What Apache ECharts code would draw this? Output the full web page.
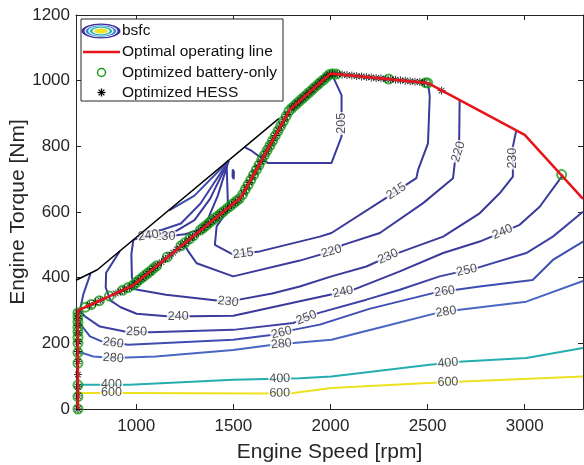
<!DOCTYPE html>
<html>
<head>
<meta charset="utf-8">
<script src="https://cdn.jsdelivr.net/npm/echarts@6/dist/echarts.min.js"></script>
<style>
html, body { margin: 0; padding: 0; background: #fff; }
#main { width: 584px; height: 465px; }
</style>
</head>
<body>
<div id="main"></div>
<script>
// tick values
var xTicks = [1000, 1500, 2000, 2500, 3000];

// optimal operating line [rpm, Nm]
var opLine = [[700,0],[700,300],[980,375],[1540,645],[1790,911],[2000,1022],[2500,993],[3000,835],[3300,640]];

// max torque curve
var maxTorque = [[690,392],[800,424],[1735,885]];

// bsfc contours, one array per piece
var c205 = [[2005,1022],[2057,956],[2057,830],[2005,749],[1679,749],[1590,788],[1560,797]];
var c210 = [[1497,730],[1503,722],[1502,700],[1496,708],[1497,730]];
var c215 = [[1465,752],[1473,606],[1414,556],[1405,500],[1499,470],[1636,480],[1945,525],[2005,536],[2271,637],[2442,703],[2451,728],[2502,809],[2511,952],[2502,994]];
var c220 = [[1245,505],[1268,480],[1311,444],[1499,404],[1842,452],[2005,480],[2065,500],[2254,536],[2477,627],[2631,703],[2640,750],[2662,790],[2665,941]];
var c230 = [[960,370],[1007,363],[1153,348],[1473,327],[1700,352],[1842,373],[2005,404],[2185,434],[2300,465],[2580,525],[2768,596],[2871,657],[2939,708],[2939,799],[2957,850]];
var c240 = [[916,481],[845,415],[843,370],[868,330],[920,310],[1002,290],[1174,282],[1500,284],[1842,328],[2116,363],[2357,419],[2580,475],[2768,510],[2974,561],[3077,616],[3197,713]];
var c250 = [[765,413],[728,350],[710,300],[736,282],[813,251],[942,236],[1071,234],[1499,241],[1808,262],[1936,292],[2185,333],[2357,363],[2562,404],[2751,429],[3008,475],[3145,525],[3300,601]];
var c260 = [[700,268],[762,221],[822,206],[959,196],[1499,211],[1705,226],[1808,241],[1945,257],[2200,305],[2528,353],[2768,373],[3041,393],[3145,454],[3300,510]];
var c280 = [[700,175],[779,160],[882,155],[1100,160],[1499,180],[1705,196],[2005,211],[2300,255],[2545,292],[2665,302],[3008,327],[3300,390]];
var c400 = [[700,74],[968,74],[1499,89],[1842,94],[2005,99],[2511,135],[2682,145],[3008,155],[3300,186]];
var c600 = [[700,49],[968,49],[1637,47],[1808,49],[2005,64],[2502,79],[2682,84],[3300,99]];
// pieces squeezed under the max torque curve
var w230 = [[1476,756],[1420,650],[1370,580],[1330,548],[1250,532],[1150,525],[1005,525]];
var w230b = [[985,515],[975,470],[978,400],[990,380]];
var w240 = [[1476,756],[1380,640],[1300,575],[1200,540],[1062,528],[985,515]];
var w250 = [[1476,756],[1330,625],[1230,565],[1130,545],[1040,540]];
var w260 = [[1476,756],[1300,650],[1170,605]];

// [rpm, Nm, level]
var contourLabels = [
  [2057,870,205],
  [1551,473,215],[2339,663,215],
  [2005,480,220],[2656,784,220],
  [1473,327,230],[2296,465,230],[2939,764,230],[1148,525,230],
  [1216,282,240],[2065,353,240],[2888,536,240],[1062,528,240],
  [1002,233,250],[1876,278,250],[2700,427,250],
  [882,203,260],[1748,232,260],[2588,358,260],
  [882,155,280],[1748,192,280],[2596,292,280],
  [873,74,400],[1739,94,400],[2605,140,400],
  [873,49,600],[1739,48,600],[2605,81,600]
];

var batteryOnly = [
  [700,0],[700,38],[700,73],[700,140],[700,172],[700,200],[700,218],[700,235],[700,250],[700,265],[700,280],[700,293],
  [738,310],[768,318],[810,330],[862,344],[930,362],[958,370],
  [985,378],[1000,385],[1015,393],[1030,400],[1045,407],[1060,414],[1075,421],[1090,429],[1105,436],
  [1160,463],[1230,497],[1250,506],[1275,518],[1295,528],
  [1330,545],[1345,552],[1360,559],[1375,567],[1390,574],[1405,581],[1420,588],[1435,595],[1450,602],[1468,611],[1485,619],[1500,626],[1515,633],[1530,640],
  [1548,654],[1562,669],[1576,683],[1590,698],[1604,713],[1618,728],[1632,743],[1646,758],[1660,773],[1674,788],[1688,802],[1702,817],[1716,832],[1730,847],[1744,862],[1758,877],[1772,892],[1786,907],
  [1800,916],[1815,924],[1830,932],[1845,940],[1860,948],[1875,956],[1890,964],[1905,972],[1920,980],[1935,988],[1950,996],[1965,1003],[1980,1011],[1995,1019],
  [2010,1021],[2030,1020],[2300,1005],[2490,994],[2500,993],
  [3190,714]
];

var hessPts = [
  [700,0],[700,40],[700,68],[700,105],[700,145],[700,175],[700,205],[700,232],[700,255],[700,275],[700,292],
  [760,316],[790,324],[815,331],[895,352],[918,358],[940,364],[965,371],
  [990,380],[1010,390],[1030,399],[1050,409],[1070,418],[1090,428],[1110,438],[1130,447],[1150,457],[1170,467],[1190,476],[1210,486],[1230,496],[1250,505],[1270,515],[1290,524],[1310,534],[1330,544],[1350,553],[1370,563],[1390,573],[1410,582],[1430,592],[1450,602],[1470,611],[1490,621],[1510,630],[1530,640],
  [1552,658],[1567,674],[1582,690],[1597,706],[1612,722],[1627,738],[1642,754],[1657,770],[1672,785],[1687,801],[1702,817],[1717,833],[1732,849],[1747,865],[1762,881],[1777,897],
  [1800,916],[1815,924],[1830,932],[1845,940],[1860,948],[1875,956],[1890,964],[1905,972],[1920,980],[1935,988],[1950,996],[1965,1004],[1980,1012],[1995,1019],
  [2010,1021],[2035,1020],[2060,1019],[2085,1017],[2110,1016],[2135,1014],[2160,1013],[2185,1011],[2210,1010],[2235,1008],[2260,1007],[2285,1005],[2310,1004],[2335,1003],[2360,1001],[2385,1000],[2410,998],[2435,997],[2460,996],[2485,994],
  [2572,970]
];

var contourPieces = [
  [205, c205], [210, c210], [215, c215], [220, c220], [230, c230], [240, c240],
  [250, c250], [260, c260], [280, c280], [400, c400], [600, c600],
  [230, w230], [230, w230b], [240, w240], [250, w250], [260, w260]
];

function levelColor(l) {
  if (l <= 240) return '#3b3a9b';
  if (l === 250) return '#3d42a4';
  if (l === 260) return '#3f4db2';
  if (l === 280) return '#4866c2';
  if (l === 400) return '#26adb0';
  return '#ece11c';
}

var FONT = '"Liberation Sans", Arial, Helvetica, sans-serif';
var AX = '#262626';
var ASTERISK = 'path://M4.4,0L5.6,0L5.6,10L4.4,10Z M0,4.4L10,4.4L10,5.6L0,5.6Z M1.08,1.92L1.92,1.08L8.92,8.08L8.08,8.92Z M8.08,1.08L8.92,1.92L1.92,8.92L1.08,8.08Z';

var myChart = echarts.init(document.getElementById('main'));

var series = [];
contourPieces.forEach(function (pc) {
  series.push({
    type: 'line', data: pc[1], symbol: 'none', silent: true, z: 2,
    lineStyle: { color: levelColor(pc[0]), width: 2 }
  });
});
series.push({
  id: 'labels', type: 'scatter', symbolSize: 1, z: 3, silent: true,
  itemStyle: { color: 'rgba(0,0,0,0)' },
  data: contourLabels.map(function (d) { return [d[0], d[1], d[2]]; }),
  label: {
    show: true, position: 'inside', formatter: function (p) { return p.value[2]; },
    fontSize: 12.5, fontFamily: FONT, color: '#262626',
    backgroundColor: '#fff', padding: [0, 1], lineHeight: 11
  }
});
series.push({
  type: 'line', data: maxTorque, symbol: 'none', silent: true, z: 4,
  lineStyle: { color: '#000', width: 1.5 }
});
series.push({
  type: 'scatter', data: batteryOnly, symbol: 'circle', symbolSize: 9, z: 5, silent: true,
  itemStyle: { color: 'rgba(0,0,0,0)', borderColor: '#1a9e1a', borderWidth: 2 }
});
series.push({
  type: 'scatter', data: hessPts, symbol: ASTERISK, symbolSize: 8, z: 6, silent: true,
  itemStyle: { color: '#000' }
});
series.push({
  type: 'line', data: opLine, symbol: 'none', silent: true, z: 7,
  lineStyle: { color: '#e8141b', width: 2.5 }
});

function asteriskLines(cx, cy, h) {
  var d = h * 0.72;
  return [[-h,0,h,0],[0,-h,0,h],[-d,-d,d,d],[-d,d,d,-d]].map(function (s) {
    return { type: 'line', shape: { x1: cx + s[0], y1: cy + s[1], x2: cx + s[2], y2: cy + s[3] },
             style: { stroke: '#000', lineWidth: 1.3 }, z: 101 };
  });
}

var legendFont = { fontSize: 15.5, fontFamily: FONT, fill: '#111', verticalAlign: 'middle' };
var graphic = [
  { type: 'rect', shape: { x: 81, y: 19, width: 202, height: 82 }, style: { fill: '#fff', stroke: AX, lineWidth: 1 }, z: 100 },
  { type: 'circle', x: 101, y: 31, scaleY: 0.38, shape: { cx: 0, cy: 0, r: 18 }, style: { fill: 'none', stroke: '#3f2c9c', lineWidth: 3, strokeNoScale: true }, z: 101 },
  { type: 'circle', x: 101, y: 31, scaleY: 0.38, shape: { cx: 0, cy: 0, r: 14 }, style: { fill: 'none', stroke: '#2f86d6', lineWidth: 2.5, strokeNoScale: true }, z: 101 },
  { type: 'circle', x: 101, y: 31, scaleY: 0.38, shape: { cx: 0, cy: 0, r: 10 }, style: { fill: 'none', stroke: '#27b5a8', lineWidth: 2.5, strokeNoScale: true }, z: 101 },
  { type: 'circle', x: 101, y: 31, scaleY: 0.38, shape: { cx: 0, cy: 0, r: 6 }, style: { fill: '#f2e41c', stroke: '#e9e024', lineWidth: 1.5, strokeNoScale: true }, z: 101 },
  { type: 'line', shape: { x1: 83, y1: 52, x2: 120, y2: 52 }, style: { stroke: '#e8141b', lineWidth: 2.5 }, z: 101 },
  { type: 'circle', shape: { cx: 101.5, cy: 72.5, r: 4 }, style: { fill: 'none', stroke: '#1a9e1a', lineWidth: 1.5 }, z: 101 },
  { type: 'text', x: 122, y: 31, style: Object.assign({ text: 'bsfc' }, legendFont), z: 101 },
  { type: 'text', x: 122, y: 52, style: Object.assign({ text: 'Optimal operating line' }, legendFont), z: 101 },
  { type: 'text', x: 122, y: 72.5, style: Object.assign({ text: 'Optimized battery-only' }, legendFont), z: 101 },
  { type: 'text', x: 122, y: 92.5, style: Object.assign({ text: 'Optimized HESS' }, legendFont), z: 101 }
].concat(asteriskLines(101.5, 92.5, 4));

function plain(v) { return String(v); }

var option = {
  animation: false,
  backgroundColor: '#fff',
  grid: { left: 76, right: 1, top: 15, bottom: 56, containLabel: false, outerBoundsMode: 'none' },
  xAxis: [{
    type: 'value', min: 690, max: 3300, position: 'bottom',
    name: 'Engine Speed [rpm]', nameLocation: 'middle', nameGap: 33,
    nameTextStyle: { fontSize: 21, fontFamily: FONT, color: AX },
    axisLine: { show: true, onZero: false, lineStyle: { color: AX, width: 1 } },
    axisTick: { show: true, inside: true, length: 5, customValues: xTicks, lineStyle: { color: AX } },
    axisLabel: { customValues: xTicks, formatter: plain, fontSize: 17, fontFamily: FONT, color: AX, margin: 9 },
    splitLine: { show: false }
  }, {
    type: 'value', min: 690, max: 3300, position: 'top',
    axisLine: { show: true, onZero: false, lineStyle: { color: AX, width: 1 } },
    axisTick: { show: true, inside: true, length: 5, customValues: xTicks, lineStyle: { color: AX } },
    axisLabel: { show: false }, splitLine: { show: false }
  }],
  yAxis: [{
    type: 'value', min: 0, max: 1200, interval: 200, position: 'left',
    name: 'Engine Torque [Nm]', nameLocation: 'middle', nameGap: 47, nameMoveOverlap: false,
    nameTextStyle: { fontSize: 21, fontFamily: FONT, color: AX },
    axisLine: { show: true, onZero: false, lineStyle: { color: AX, width: 1 } },
    axisTick: { show: true, inside: true, length: 5, lineStyle: { color: AX } },
    axisLabel: { formatter: plain, fontSize: 17, fontFamily: FONT, color: AX, margin: 6 },
    splitLine: { show: false }
  }, {
    type: 'value', min: 0, max: 1200, interval: 200, position: 'right',
    axisLine: { show: true, onZero: false, lineStyle: { color: AX, width: 1 } },
    axisTick: { show: true, inside: true, length: 5, lineStyle: { color: AX } },
    axisLabel: { show: false }, splitLine: { show: false }
  }],
  graphic: graphic,
  series: series
};

myChart.setOption(option);

// put each contour label onto its line and turn it along the line
function snapLabels() {
  var out = [];
  contourLabels.forEach(function (lb) {
    var p = myChart.convertToPixel({ gridIndex: 0 }, [lb[0], lb[1]]);
    var best = null;
    contourPieces.forEach(function (pc) {
      if (pc[0] !== lb[2]) return;
      var pts = pc[1].map(function (d) { return myChart.convertToPixel({ gridIndex: 0 }, d); });
      for (var i = 0; i < pts.length - 1; i++) {
        var a = pts[i], b = pts[i + 1];
        var dx = b[0] - a[0], dy = b[1] - a[1];
        var len2 = dx * dx + dy * dy || 1;
        var t = ((p[0] - a[0]) * dx + (p[1] - a[1]) * dy) / len2;
        t = Math.max(0, Math.min(1, t));
        var q = [a[0] + t * dx, a[1] + t * dy];
        var dist = Math.hypot(q[0] - p[0], q[1] - p[1]);
        if (!best || dist < best.dist) best = { dist: dist, q: q, dx: dx, dy: dy };
      }
    });
    var ang = Math.atan2(-best.dy, best.dx) * 180 / Math.PI;
    if (ang > 90) ang -= 180;
    if (ang <= -90) ang += 180;
    var v = myChart.convertFromPixel({ gridIndex: 0 }, best.q);
    out.push({ value: [v[0], v[1], lb[2]], label: { rotate: ang } });
  });
  myChart.setOption({ series: [{ id: 'labels', data: out }] });
}
snapLabels();
</script>
</body>
</html>
